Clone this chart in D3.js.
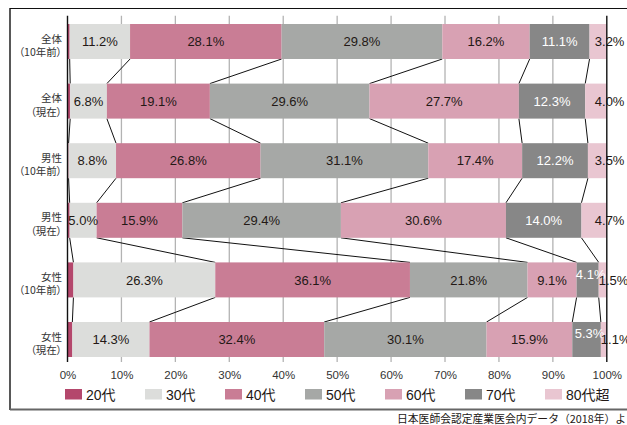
<!DOCTYPE html>
<html><head><meta charset="utf-8">
<script src="https://cdn.jsdelivr.net/npm/d3@7"></script>
<style>
html,body{margin:0;padding:0;background:#fff;}
svg{display:block;font-family:"Liberation Sans","Noto Sans CJK JP",sans-serif;}
.jp{font-family:"Noto Sans CJK JP",sans-serif;font-feature-settings:"palt";}
</style></head>
<body>
<script>
// ---- data ----
const ageGroups = ["20代","30代","40代","50代","60代","70代","80代超"];
const rowTitles = ["全体","全体","男性","男性","女性","女性"];
const rowPeriods = ["（10年前）","（現在）","（10年前）","（現在）","（10年前）","（現在）"];
const allPast   = [0.4, 11.2, 28.1, 29.8, 16.2, 11.1, 3.2];
const allNow    = [0.5, 6.8, 19.1, 29.6, 27.7, 12.3, 4.0];
const malePast  = [0.2, 8.8, 26.8, 31.1, 17.4, 12.2, 3.5];
const maleNow   = [0.4, 5.0, 15.9, 29.4, 30.6, 14.0, 4.7];
const femalePast= [1.1, 26.3, 36.1, 21.8, 9.1, 4.1, 1.5];
const femaleNow = [0.9, 14.3, 32.4, 30.1, 15.9, 5.3, 1.1];
const tickValues = [0,10,20,30,40,50,60,70,80,90,100];
const sourceText = "日本医師会認定産業医会内データ（2018年）より";

const series = [allPast, allNow, malePast, maleNow, femalePast, femaleNow];
const colors = ["#b4476c","#dcdddb","#c97d95","#a6a8a6","#d8a1b3","#878787","#e9c6d1"];
const labelColors = [null,"#231815","#231815","#231815","#231815","#ffffff","#231815"];

const W = 627, H = 425;
const svg = d3.select("body").append("svg").attr("width",W).attr("height",H);

// frame
svg.append("line").attr("x1",10).attr("x2",W).attr("y1",8.5).attr("y2",8.5).attr("stroke","#111").attr("stroke-width",1.2);
svg.append("line").attr("x1",10).attr("x2",10).attr("y1",8).attr("y2",410).attr("stroke","#111").attr("stroke-width",1.4);
svg.append("line").attr("x1",10).attr("x2",W).attr("y1",409.5).attr("y2",409.5).attr("stroke","#666").attr("stroke-width",2);

const x = d3.scaleLinear().domain([0,100]).range([67.5,606.8]);
const rowIdx = d3.range(series.length);
const step = 59.6, bw = 35;
const y = d3.scaleBand().domain(rowIdx)
  .range([24 - 0.13*step, 24 + 5*step + bw + 0.13*step])
  .paddingInner((step-bw)/step).paddingOuter(0.13);

const gTop = 15.7, gBot = 362;

// gridlines
svg.append("g").selectAll("line").data(tickValues.filter(d=>d>0 && d<100)).join("line")
  .attr("x1",d=>x(d)).attr("x2",d=>x(d)).attr("y1",gTop).attr("y2",gBot)
  .attr("stroke","#b3b3b3").attr("stroke-width",1.3);

// stacked data
const stacked = series.map(vals=>{
  let c=0; return vals.map((v,i)=>{const s=c; c+=v; return {i, v, s, e:c};});
});

// connectors
const conn = [];
for(let r=0;r<series.length-1;r++){
  for(let k=0;k<ageGroups.length-1;k++){
    conn.push({x1:x(stacked[r][k].e), y1:y(r)+y.bandwidth(), x2:x(stacked[r+1][k].e), y2:y(r+1)});
  }
}
svg.append("g").selectAll("line").data(conn).join("line")
  .attr("x1",d=>d.x1).attr("y1",d=>d.y1).attr("x2",d=>d.x2).attr("y2",d=>d.y2)
  .attr("stroke","#111").attr("stroke-width",1);

// bars
const rowsG = svg.append("g").selectAll("g").data(stacked).join("g")
  .attr("transform",(d,r)=>`translate(0,${y(r)})`);
rowsG.selectAll("rect").data(d=>d).join("rect")
  .attr("x",d=>x(d.s)).attr("width",d=>x(d.e)-x(d.s))
  .attr("y",0).attr("height",y.bandwidth())
  .attr("fill",d=>colors[d.i]);

// value labels
rowsG.selectAll("text").data(d=>d.filter(s=>s.i>0)).join("text")
  .attr("x",d=>{
    if(d.i===6) return Math.max(x(d.s), x(100)-12);
    const cx=(x(d.s)+x(d.e))/2;
    return (d.i===5 && d.v<6) ? cx+3 : cx;
  })
  .attr("y",d=> y.bandwidth()/2 + ((d.i===5 && d.v<6) ? -6 : 0))
  .attr("dy","0.36em")
  .attr("text-anchor",d=>d.i===6?"start":"middle")
  .attr("font-size",13)
  .attr("fill",d=>labelColors[d.i])
  .text(d=>d.v.toFixed(1)+"%");

// axis lines at 0 and 100
[0,100].forEach(v=>{
  svg.append("line").attr("x1",x(v)).attr("x2",x(v)).attr("y1",gTop).attr("y2",gBot)
    .attr("stroke","#111").attr("stroke-width",1.4);
});

// x axis tick labels
const ax = svg.append("g").attr("transform",`translate(0,${gBot})`)
  .call(d3.axisBottom(x).tickValues(tickValues).tickFormat(d=>d+"%").tickSize(0).tickPadding(9));
ax.select(".domain").remove();
ax.selectAll("text").attr("font-size",11.5).attr("fill","#333")
  .attr("font-family","'Liberation Sans',sans-serif");

// row labels (two lines in one text element)
const rl = svg.append("g").attr("class","jp");
rowIdx.forEach(r=>{
  const cy = y(r)+y.bandwidth()/2;
  const t = rl.append("text").attr("text-anchor","end")
    .attr("font-size",10.5).attr("fill","#333");
  t.append("tspan").attr("x",62).attr("y",cy+1).text(rowTitles[r]);
  t.append("tspan").attr("x",62).attr("y",cy+14.5).text(rowPeriods[r]);
});

// legend
const lg = svg.append("g").selectAll("g").data(ageGroups).join("g")
  .attr("transform",(d,i)=>`translate(${65+i*80},389)`);
lg.append("rect").attr("width",17).attr("height",10.5).attr("fill",(d,i)=>colors[i]);
lg.append("text").attr("x",21).attr("y",10.5).attr("font-size",14).attr("fill","#231815").text(d=>d);

// source
svg.append("text").attr("x",397).attr("y",423)
  .attr("font-family","'Noto Sans CJK JP',sans-serif")
  .attr("font-size",10.8).attr("fill","#231815").text(sourceText);
</script>
</body></html>
